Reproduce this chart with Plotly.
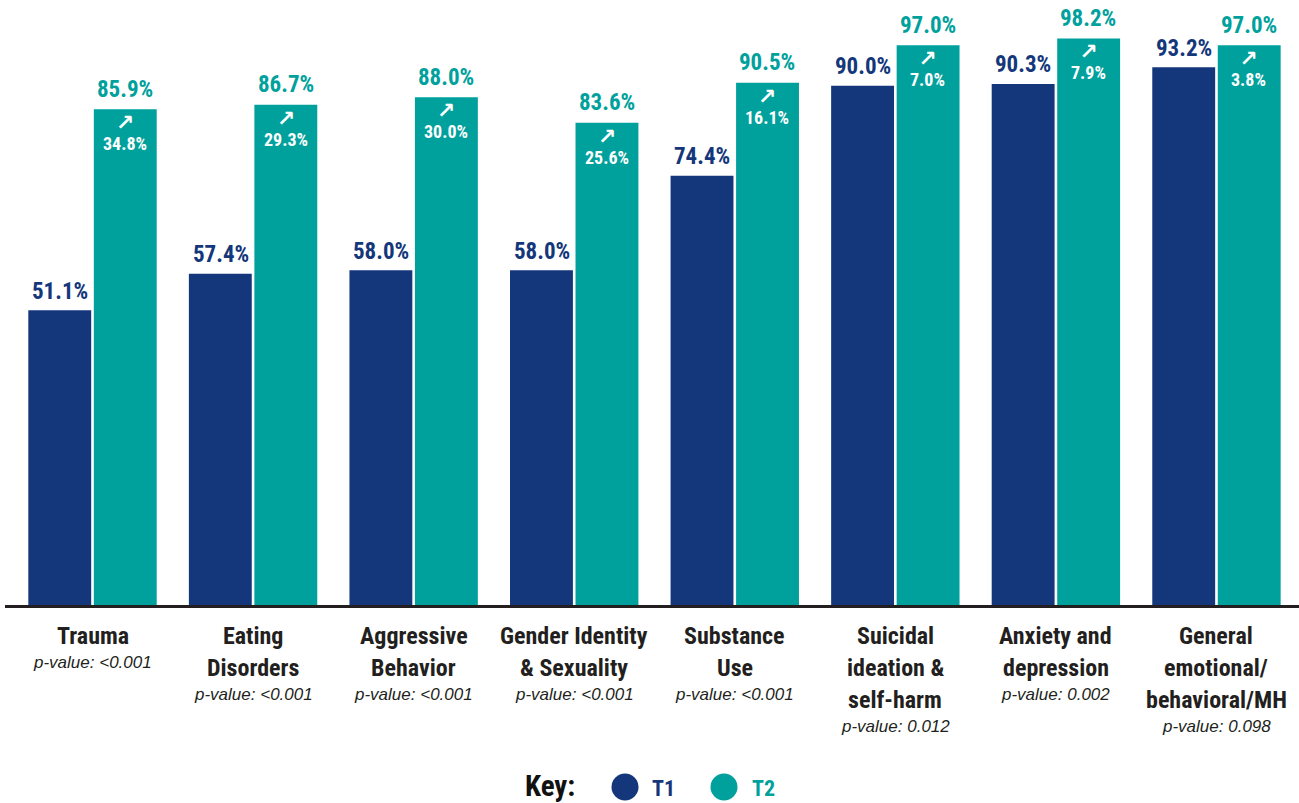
import plotly.graph_objects as go

categories = ["Trauma", "Eating<br>Disorders", "Aggressive<br>Behavior", "Gender Identity<br>& Sexuality",
              "Substance<br>Use", "Suicidal<br>ideation &<br>self-harm", "Anxiety and<br>depression",
              "General<br>emotional/<br>behavioral/MH"]
p_values = ["<0.001", "<0.001", "<0.001", "<0.001", "<0.001", "0.012", "0.002", "0.098"]
t1 = [51.1, 57.4, 58.0, 58.0, 74.4, 90.0, 90.3, 93.2]
t2 = [85.9, 86.7, 88.0, 83.6, 90.5, 97.0, 98.2, 97.0]
change = [34.8, 29.3, 30.0, 25.6, 16.1, 7.0, 7.9, 3.8]

NAVY = "#14377b"
TEAL = "#00a19c"
DARK = "#231f20"
BOLD = "Roboto Condensed, Liberation Sans Narrow, sans-serif"
ITAL = "Liberation Sans, Arial, sans-serif"

W, H = 1299, 803
L, R, T, B = 5, 0, 28, 198
PH = H - T - B  # plot height


def px_x(p):
    return (p - L) / (W - L - R)


def px_y(p):
    return (H - B - p) / PH


fig = go.Figure()
fig.add_trace(go.Bar(x=categories, y=t1, name="T1", marker=dict(color=NAVY, line=dict(width=0)),
                     hoverinfo="skip"))
fig.add_trace(go.Bar(x=categories, y=t2, name="T2", marker=dict(color=TEAL, line=dict(width=0)),
                     hoverinfo="skip"))

ann = []
off = 32.5
for i, c in enumerate(categories):
    ann.append(dict(x=c, y=t1[i], xref="x", yref="y", xshift=-off, yshift=19, text=f"<b>{t1[i]:.1f}%</b>",
                    showarrow=False, font=dict(family=BOLD, size=23, color=NAVY), yanchor="middle"))
    ann.append(dict(x=c, y=t2[i], xref="x", yref="y", xshift=off, yshift=20, text=f"<b>{t2[i]:.1f}%</b>",
                    showarrow=False, font=dict(family=BOLD, size=23, color=TEAL), yanchor="middle"))
    ann.append(dict(x=c, y=t2[i], xref="x", yref="y", xshift=off, yshift=1, yanchor="top",
                    text=(f"<span style='font-family:DejaVu Sans;font-size:22px'><b>↗</b></span><br>"
                          f"<span style='font-size:18px'><b>{change[i]:.1f}%</b></span>"),
                    showarrow=False, font=dict(family=BOLD, size=15, color="white")))
    lines = c.split("<br>")
    for j, ln in enumerate(lines):
        ann.append(dict(x=c, y=0, xref="x", yref="paper", yshift=-(31 + 32 * j), text=f"<b>{ln}</b>",
                        showarrow=False, font=dict(family=BOLD, size=24, color=DARK), yanchor="middle"))
    ann.append(dict(x=c, y=0, xref="x", yref="paper", yshift=-(31 + 32 * (len(lines) - 1) + 26),
                    text=f"<i>p-value: {p_values[i]}</i>", showarrow=False,
                    font=dict(family=ITAL, size=17, color=DARK), yanchor="middle"))

# key
ann.append(dict(x=px_x(550), y=px_y(786), xref="paper", yref="paper", text="<b>Key:</b>", showarrow=False,
                font=dict(family=BOLD, size=29, color="#111111"), xanchor="center", yanchor="middle"))
ann.append(dict(x=px_x(663), y=px_y(788), xref="paper", yref="paper", text="<b>T1</b>", showarrow=False,
                font=dict(family=BOLD, size=22, color=NAVY), xanchor="center", yanchor="middle"))
ann.append(dict(x=px_x(763), y=px_y(788), xref="paper", yref="paper", text="<b>T2</b>", showarrow=False,
                font=dict(family=BOLD, size=22, color=TEAL), xanchor="center", yanchor="middle"))

shapes = []
for cx, col in [(625, NAVY), (724, TEAL)]:
    shapes.append(dict(type="circle", xref="paper", yref="paper", xsizemode="pixel", ysizemode="pixel",
                       xanchor=px_x(cx), yanchor=px_y(787), x0=-13.5, x1=13.5, y0=-13.5, y1=13.5,
                       fillcolor=col, line=dict(width=0)))

fig.update_layout(
    width=W, height=H,
    margin=dict(l=L, r=R, t=T, b=B),
    paper_bgcolor="white", plot_bgcolor="white",
    barmode="group", bargap=0.184, bargroupgap=0.04,
    showlegend=False,
    annotations=ann, shapes=shapes,
    xaxis=dict(range=[-0.545, 7.514], showticklabels=False, ticks="", showgrid=False, zeroline=False,
               showline=True, linecolor=DARK, linewidth=3, fixedrange=True),
    yaxis=dict(range=[0, 100], visible=False, showgrid=False, zeroline=False, fixedrange=True),
)

fig.write_html("out.html", config={"displayModeBar": False},
               post_script="document.body.style.margin='0px';")
